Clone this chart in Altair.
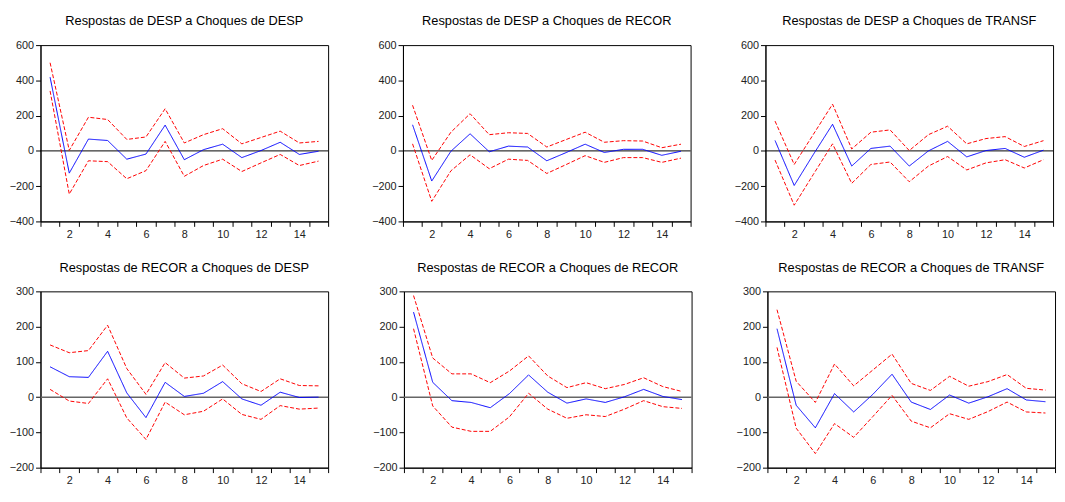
import altair as alt
import pandas as pd

periods = list(range(1, 16))

# Respostas de DESP a Choques de DESP
desp_desp_resp = [418, -126, 67, 59, -47, -18, 146, -50, 7, 38, -38, 2, 49, -20, -2]
desp_desp_upper = [500, 3, 191, 178, 65, 79, 239, 45, 92, 126, 40, 76, 112, 45, 54]
desp_desp_lower = [340, -245, -56, -61, -158, -112, 54, -144, -83, -47, -117, -68, -20, -83, -58]

# Respostas de DESP a Choques de RECOR
desp_recor_resp = [148, -171, -2, 97, -5, 27, 22, -56, -10, 38, -9, 9, 9, -25, -2]
desp_recor_upper = [259, -54, 106, 211, 92, 103, 99, 22, 64, 106, 49, 58, 56, 18, 38]
desp_recor_lower = [40, -286, -113, -22, -101, -47, -54, -128, -78, -27, -65, -38, -38, -65, -41]

# Respostas de DESP a Choques de TRANSF
desp_transf_resp = [59, -196, -20, 151, -86, 14, 27, -86, 0, 54, -34, 2, 14, -36, 4]
desp_transf_upper = [169, -77, 94, 265, 11, 106, 119, 2, 92, 140, 40, 70, 81, 25, 58]
desp_transf_lower = [-52, -308, -133, 40, -184, -77, -63, -175, -86, -32, -108, -68, -50, -97, -50]

# Respostas de RECOR a Choques de DESP
recor_desp_resp = [86, 58, 56, 130, 12, -58, 42, 2, 11, 44, -5, -23, 14, -1, 0]
recor_desp_upper = [148, 126, 132, 204, 81, 8, 98, 54, 60, 91, 38, 16, 52, 33, 32]
recor_desp_lower = [22, -11, -18, 52, -59, -120, -14, -50, -40, -5, -49, -63, -24, -34, -31]

# Respostas de RECOR a Choques de RECOR
recor_recor_resp = [241, 42, -10, -15, -30, 10, 63, 14, -17, -5, -15, 1, 22, 2, -7]
recor_recor_upper = [288, 111, 66, 66, 41, 74, 117, 60, 27, 41, 24, 36, 55, 30, 16]
recor_recor_lower = [194, -25, -85, -97, -97, -56, 11, -34, -60, -50, -55, -34, -10, -27, -32]

# Respostas de RECOR a Choques de TRANSF
recor_transf_resp = [194, -23, -87, 10, -42, 8, 65, -14, -35, 6, -17, 1, 24, -8, -13]
recor_transf_upper = [248, 45, -15, 94, 32, 77, 122, 39, 19, 59, 31, 44, 64, 25, 20]
recor_transf_lower = [141, -88, -160, -75, -114, -55, 5, -68, -87, -47, -63, -41, -14, -42, -45]

titles = [
    "Respostas de DESP a Choques de DESP",
    "Respostas de DESP a Choques de RECOR",
    "Respostas de DESP a Choques de TRANSF",
    "Respostas de RECOR a Choques de DESP",
    "Respostas de RECOR a Choques de RECOR",
    "Respostas de RECOR a Choques de TRANSF",
]
y_ticks_top = [-400, -200, 0, 200, 400, 600]
y_ticks_bottom = [-200, -100, 0, 100, 200, 300]
x_tick_positions = [0.5 + i for i in range(16)]
x_label_positions = [2, 4, 6, 8, 10, 12, 14]

FONT = "Liberation Sans"
PANEL_W = 292
PANEL_H = 179


def panel(title, resp, upper, lower, yticks, zero_color, zero_width):
    df = pd.DataFrame({
        "period": periods * 3,
        "value": resp + upper + lower,
        "series": ["resp"] * 15 + ["upper"] * 15 + ["lower"] * 15,
    })
    xenc = alt.X(
        "period:Q",
        scale=alt.Scale(domain=[0.5, 15.5], nice=False, zero=False),
        axis=alt.Axis(
            title=None,
            values=x_tick_positions + x_label_positions,
            labelExpr="datum.value % 2 == 0 ? format(datum.value, 'd') : ''",
            tickOpacity={"condition": {"test": "datum.value % 1 == 0", "value": 0}, "value": 1},
            labelOverlap=False,
            labelFlush=False,
            labelBound=False,
        ),
    )
    yenc = alt.Y(
        "value:Q",
        scale=alt.Scale(domain=[yticks[0], yticks[-1]], nice=False, zero=False),
        axis=alt.Axis(title=None, values=yticks, format="d", labelOverlap=False, labelFlush=False),
    )
    zero = alt.Chart(pd.DataFrame({"value": [0]})).mark_rule(
        color=zero_color, strokeWidth=zero_width
    ).encode(y=yenc)
    lines = alt.Chart(df).mark_line(strokeWidth=1).encode(
        x=xenc,
        y=yenc,
        color=alt.Color(
            "series:N",
            scale=alt.Scale(domain=["resp", "upper", "lower"], range=["#0000ff", "#ff0000", "#ff0000"]),
            legend=None,
        ),
        strokeDash=alt.StrokeDash(
            "series:N",
            scale=alt.Scale(domain=["resp", "upper", "lower"], range=[[1, 0], [4, 2], [4, 2]]),
            legend=None,
        ),
    )
    return alt.layer(zero, lines).properties(
        width=PANEL_W,
        height=PANEL_H,
        title=alt.TitleParams(
            title, fontSize=13, font=FONT, fontWeight="normal", color="black",
            anchor="middle", frame="group", offset=11,
        ),
    )


top_row = alt.hconcat(
    panel(titles[0], desp_desp_resp, desp_desp_upper, desp_desp_lower, y_ticks_top, "black", 1),
    panel(titles[1], desp_recor_resp, desp_recor_upper, desp_recor_lower, y_ticks_top, "black", 1),
    panel(titles[2], desp_transf_resp, desp_transf_upper, desp_transf_lower, y_ticks_top, "black", 1),
    spacing=42,
)
bottom_row = alt.hconcat(
    panel(titles[3], recor_desp_resp, recor_desp_upper, recor_desp_lower, y_ticks_bottom, "#666666", 1.5),
    panel(titles[4], recor_recor_resp, recor_recor_upper, recor_recor_lower, y_ticks_bottom, "#666666", 1.5),
    panel(titles[5], recor_transf_resp, recor_transf_upper, recor_transf_lower, y_ticks_bottom, "#666666", 1.5),
    spacing=42,
)

chart = alt.vconcat(top_row, bottom_row, spacing=21).properties(
    padding={"left": 0, "top": 3, "right": 0, "bottom": 0},
    background="white",
).configure_view(
    stroke="black", strokeWidth=1
).configure_axis(
    grid=False,
    domainColor="black",
    domainWidth=1,
    tickColor="black",
    tickSize=5,
    tickWidth=1,
    labelFont=FONT,
    labelFontSize=11,
    labelColor="#222222",
    labelPadding=2,
)

chart.save("out.html", embed_options={"renderer": "svg", "actions": False})
